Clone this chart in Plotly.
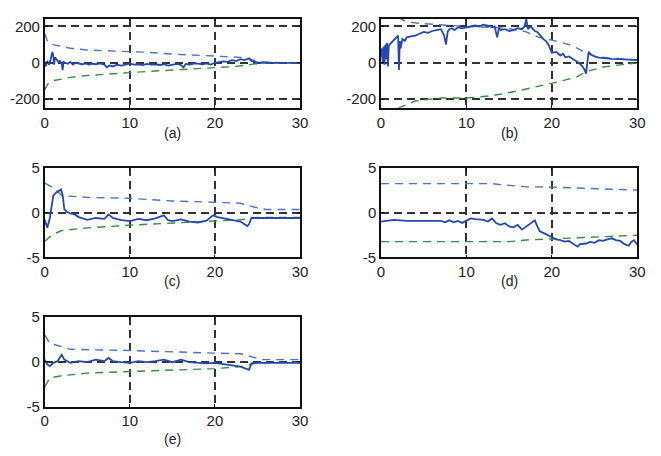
import plotly.graph_objects as go

# ---------------- data ----------------
# (a)
a_x = [0, 0.1, 0.3, 0.5, 0.7, 0.9, 1.0, 1.1, 1.2, 1.4, 1.6, 1.8, 2.0, 2.1, 2.2, 2.4, 2.7, 3.0, 3.3, 3.6,
       4.0, 4.4, 4.8, 5.2, 5.6, 6.0, 6.5, 7.0, 7.3, 7.6, 8.0, 8.5, 9.0, 9.5, 10, 10.5, 11, 11.5, 12, 12.5,
       13, 13.5, 14, 14.5, 15, 15.5, 16, 16.3, 16.6, 16.9, 17.2, 17.5, 18, 18.5, 19, 19.5, 20, 20.5, 21, 21.5,
       22, 22.5, 23, 23.5, 24, 24.3, 24.6, 25, 25.5, 26, 27, 28, 29, 30]
a_y = [0, -20, 10, -10, 20, 60, 40, -10, 30, 15, 5, 10, -5, -40, 5, 0, -5, 5, -10, 0,
       -5, -8, -3, -10, -5, -8, -3, -10, -25, -15, -20, -10, -15, -12, -5, -10, -8, -12, -6, -10,
       -8, -12, -8, -15, -10, -6, -12, -25, -5, -10, -8, -5, -5, -8, -3, -10, 0, 5, 8, 5,
       15, 10, 20, 15, 25, 10, 5, 2, 0, 2, 0, 1, 0, 0]
a_up_x = [0, 0.3, 0.6, 1, 2, 3, 5, 7, 10, 12, 15, 18, 20, 22, 23, 24, 25, 26, 30]
a_up_y = [160, 120, 106, 100, 90, 80, 70, 66, 63, 58, 48, 42, 39, 36, 30, 21, 8, 2, 0]
a_lo_x = [0, 0.3, 0.6, 1, 2, 3, 5, 7, 10, 12, 15, 18, 20, 22.5, 24, 25, 26, 30]
a_lo_y = [-150, -120, -105, -98, -90, -80, -70, -62, -54, -48, -40, -30, -23, -20, -10, -4, 0, 0]

# (b)
b_x = [0, 0.1, 0.2, 0.3, 0.4, 0.5, 0.6, 0.7, 0.8, 0.9, 1.0, 1.2, 1.4, 1.6, 1.8, 2.0, 2.1, 2.2, 2.3, 2.5,
       2.8, 3.0, 3.5, 4.0, 4.5, 5.0, 5.5, 6.0, 6.5, 7.0, 7.4, 7.6, 7.8, 8.0, 8.3, 8.6, 9.0, 9.5, 10, 10.5,
       11, 11.5, 12, 12.5, 13, 13.3, 13.6, 13.8, 14, 14.5, 15, 15.5, 16, 16.5, 16.8, 17.0, 17.2, 17.5, 18, 18.3,
       18.6, 19, 19.3, 19.6, 20, 20.5, 21, 21.3, 21.6, 22, 22.5, 23, 23.5, 23.8, 24, 24.1, 24.3, 24.6, 25, 25.5,
       26, 27, 28, 29, 30]
b_y = [30, 80, 0, 90, -10, 100, 20, 110, -20, 90, 100, 110, 120, 130, 140, 150, -40, 120, 80, 130,
       120, 140, 145, 150, 160, 170, 165, 175, 180, 185, 150, 100, 170, 185, 190, 180, 195, 190, 195, 200,
       205, 200, 210, 205, 195, 200, 140, 190, 180, 185, 175, 180, 190, 185, 200, 240, 185, 200, 175, 170,
       150, 130, 120, 100, 55, 60, 40, 50, 30, 35, 20, 5, -15, -35, -60, -20, 60, 45, 35, 28,
       25, 22, 20, 18, 15]
b_up_x = [2, 3, 5, 8, 10, 13, 15, 17, 18.5, 20, 22, 23, 24, 25, 27, 30]
b_up_y = [250, 225, 215, 205, 200, 195, 188, 170, 140, 125, 100, 80, 55, 35, 25, 15]
b_lo_x = [2, 4, 7, 10, 13, 16, 19, 21, 23, 24, 26, 28, 30]
b_lo_y = [-250, -210, -194, -194, -181, -155, -123, -102, -76, -49, -23, -11, 0]

# (c)
c_x = [0, 0.3, 0.6, 1.0, 1.3, 1.6, 1.9, 2.1, 2.3, 2.6, 3.0, 3.5, 4.0, 5.0, 6.0, 7.0, 7.5, 8.0, 9.0, 10,
       11, 12, 13, 14, 14.5, 15, 16, 17, 18, 19, 19.8, 20.3, 21, 22, 23, 23.8, 24, 24.3, 25, 30]
c_y = [-0.8, -1.7, -0.6, 1.9, 2.2, 2.4, 2.6, 2.0, 0.4, 0.1, -0.1, -0.2, -0.5, -0.8, -0.6, -0.7, -0.2, -0.6, -0.85, -0.95,
       -0.7, -0.85, -0.65, -0.3, -0.85, -0.95, -0.75, -1.0, -1.1, -0.9, -0.3, -0.5, -0.65, -0.85, -1.0, -1.5, -1.3, -0.6, -0.6, -0.6]
c_up_x = [0, 1, 2, 5, 10, 15, 20, 23, 24.7, 26, 30]
c_up_y = [3.3, 2.8, 1.9, 1.7, 1.6, 1.3, 1.15, 1.05, 0.6, 0.35, 0.35]
c_lo_x = [0, 1, 2, 5, 10, 15, 20, 23, 25, 30]
c_lo_y = [-3.2, -2.4, -2.0, -1.7, -1.4, -1.2, -1.0, -0.8, -0.55, -0.55]

# (d)
d_x = [0, 0.5, 1.5, 3, 7, 7.5, 8, 8.5, 9, 9.5, 10, 10.5, 11, 12, 12.5, 13, 13.5, 14, 14.5, 15,
       15.5, 16, 16.5, 17, 17.5, 18, 18.3, 18.6, 19, 19.5, 20, 20.5, 21, 21.5, 22, 22.5, 23, 23.3, 24, 24.5,
       25, 25.5, 26, 26.5, 27, 27.5, 28, 28.5, 29, 29.3, 29.6, 30]
d_y = [-1.0, -0.93, -0.82, -0.93, -0.93, -1.08, -0.86, -1.08, -0.93, -1.15, -0.86, -0.65, -0.72, -0.82, -1.0, -0.65, -1.19, -1.36, -1.19, -1.54,
       -1.65, -1.36, -1.9, -1.54, -1.19, -0.86, -1.54, -2.08, -2.26, -2.51, -2.8, -2.98, -3.08, -3.23, -3.16, -3.45, -3.8, -3.52, -3.45, -3.27,
       -3.38, -3.08, -3.16, -2.98, -2.87, -3.08, -3.16, -3.52, -3.7, -3.27, -3.08, -3.59]
d_up_x = [0, 13, 14, 17, 20, 22.5, 25, 30]
d_up_y = [3.24, 3.24, 3.13, 2.88, 2.85, 2.77, 2.66, 2.52]
d_lo_x = [0, 15, 17, 20, 25, 30]
d_lo_y = [-3.24, -3.24, -3.06, -2.91, -2.73, -2.52]

# (e)
e_x = [0, 0.3, 0.6, 1, 1.5, 2, 2.3, 3, 4, 5, 6, 7, 7.5, 8, 9, 10, 11, 12, 13, 14,
       15, 16, 17, 18, 19, 20, 21, 22, 23, 24, 24.3, 25, 30]
e_y = [0.25, -0.29, -0.47, -0.11, 0.07, 0.79, 0.25, -0.11, 0.07, -0.04, 0.25, 0.07, 0.43, 0.07, -0.04, -0.11, 0.07, -0.04, 0.07, 0.25,
       -0.04, 0.25, -0.04, -0.11, -0.18, -0.11, -0.29, -0.4, -0.54, -0.9, -0.18, -0.11, -0.11]
e_up_x = [0, 0.6, 2, 3, 10, 15, 20, 23, 24.5, 25.5, 30]
e_up_y = [3.0, 2.05, 1.7, 1.4, 1.26, 1.08, 0.97, 0.9, 0.54, 0.25, 0.25]
e_lo_x = [0, 0.6, 2, 5, 10, 15, 20, 23, 25, 30]
e_lo_y = [-2.8, -1.8, -1.55, -1.26, -1.08, -0.94, -0.76, -0.54, -0.11, -0.04]

labels = ["(a)", "(b)", "(c)", "(d)", "(e)"]
x_ticks = [0, 10, 20, 30]
y_ticks_big = [-200, 0, 200]
y_ticks_small = [-5, 0, 5]

# ---------------- styling ----------------
W, H = 661, 456
SOLID = "#2448b0"
UPC = "#4a74c6"
LOC = "#3a8d3e"
FONT = "Liberation Sans, Arial, sans-serif"

panels = [
    (a_x, a_y, a_up_x, a_up_y, a_lo_x, a_lo_y, (41.5, 301.5), (10, 102.7), [-248, 243], y_ticks_big),
    (b_x, b_y, b_up_x, b_up_y, b_lo_x, b_lo_y, (384, 645), (10, 102.7), [-248, 243], y_ticks_big),
    (c_x, c_y, c_up_x, c_up_y, c_lo_x, c_lo_y, (41.5, 301.5), (165, 258), [-5, 5], y_ticks_small),
    (d_x, d_y, d_up_x, d_up_y, d_lo_x, d_lo_y, (384, 645), (165, 258), [-5, 5], y_ticks_small),
    (e_x, e_y, e_up_x, e_up_y, e_lo_x, e_lo_y, (41.5, 301.5), (320, 413), [-5, 5], y_ticks_small),
]
caption_y = [129, 129, 283, 283, 447]

fig = go.Figure()
layout = {}
annotations = []
for i, (x, y, ux, uy, lx, ly, (px0, px1), (py0, py1), yr, yt) in enumerate(panels):
    n = "" if i == 0 else str(i + 1)
    xa, ya = "x" + n, "y" + n
    fig.add_trace(go.Scatter(x=ux, y=uy, mode="lines", xaxis=xa, yaxis=ya,
                             line=dict(color=UPC, width=1.4, dash="8px,6px"), showlegend=False))
    fig.add_trace(go.Scatter(x=lx, y=ly, mode="lines", xaxis=xa, yaxis=ya,
                             line=dict(color=LOC, width=1.4, dash="8px,6px"), showlegend=False))
    fig.add_trace(go.Scatter(x=x, y=y, mode="lines", xaxis=xa, yaxis=ya,
                             line=dict(color=SOLID, width=1.8), showlegend=False))
    common = dict(showline=True, linecolor="#111111", linewidth=1.6, mirror="allticks",
                  ticks="inside", ticklen=3, tickcolor="#111111",
                  showgrid=True, gridcolor="#333333", gridwidth=1.5, griddash="8px,5px",
                  zeroline=False, tickfont=dict(family=FONT, size=15, color="#222222"))
    layout["xaxis" + n] = dict(common, domain=[px0 / W, px1 / W], range=[0, 30],
                               tickvals=x_ticks, ticktext=[str(v) for v in x_ticks], anchor=ya)
    layout["yaxis" + n] = dict(common, domain=[1 - py1 / H, 1 - py0 / H], range=yr,
                               tickvals=yt, ticktext=[str(v) for v in yt], anchor=xa)
    annotations.append(dict(text=labels[i], x=(px0 + px1) / 2 / W, y=1 - caption_y[i] / H,
                            xref="paper", yref="paper", showarrow=False,
                            xanchor="center", yanchor="middle",
                            font=dict(family=FONT, size=14, color="#222222")))

fig.update_layout(**layout)
fig.update_layout(width=W, height=H, margin=dict(l=0, r=0, t=0, b=0),
                  paper_bgcolor="white", plot_bgcolor="white",
                  annotations=annotations, showlegend=False)
fig.write_html("out.html")
